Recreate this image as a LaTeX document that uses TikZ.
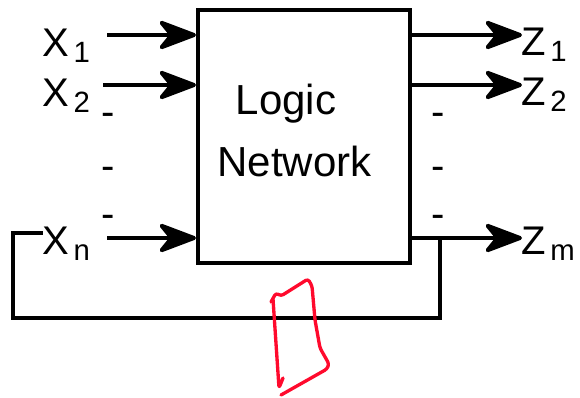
\documentclass[tikz,border=0pt]{standalone}
\usepackage{fontspec}
\setmainfont{Liberation Sans}
\usetikzlibrary{arrows.meta, positioning}
\definecolor{penred}{RGB}{255,10,45}
\newcommand{\lowsub}[1]{\hspace{3.5pt}\raisebox{-4.5pt}{\fontsize{22pt}{22pt}\selectfont #1}}
\tikzset{
  bigtip/.tip={Stealth[scale=2, inset=5pt, round]},
  wire/.style={line width=3pt},
  sig/.style={wire, -bigtip}
}

\begin{document}
\begin{tikzpicture}[x=0.75pt, y=-0.75pt,
  lbl/.style={inner sep=0pt, anchor=base west, font=\fontsize{30pt}{30pt}\selectfont},
  txt/.style={inner sep=0pt, anchor=base, font=\fontsize{31.5pt}{31.5pt}\selectfont},
  dots/.style={inner sep=0pt, anchor=base, font=\fontsize{30pt}{30pt}\selectfont},
  pen/.style={line width=2.5pt, draw=penred, line cap=round, line join=round, rounded corners=2pt}]
  \useasboundingbox (0,0) rectangle (580,398);
  % Logic network block
  \node[draw, line width=3pt, minimum width=159pt, minimum height=190pt, inner sep=0pt] (net) at (304,136.5) {};
  \node[txt] (logic) at (286,115) {Logic};
  \node[txt] (network) at (294.5,177) {Network};
  % Input and output labels
  \node[lbl] (x1) at (42,57) {X\lowsub{1}};
  \node[lbl] (x2) at (42,107) {X\lowsub{2}};
  \node[lbl] (xn) at (42,255) {X\lowsub{n}};
  \node[lbl] (z1) at (521,56) {Z\lowsub{1}};
  \node[lbl] (z2) at (521,106) {Z\lowsub{2}};
  \node[lbl] (zm) at (521,255) {Z\lowsub{m}};
  % Inputs
  \coordinate (x1s) at (107,35);
  \coordinate (x2s) at (103,85);
  \coordinate (xns) at (107,238);
  \draw[sig] (x1s) -- (x1s -| net.west);
  \draw[sig] (x2s) -- (x2s -| net.west);
  \draw[sig] (xns) -- (xns -| net.west);
  % Outputs
  \coordinate (z1e) at (522,35);
  \coordinate (z2e) at (522,85);
  \coordinate (zme) at (522,238);
  \draw[sig] (z1e -| net.east) -- (z1e);
  \draw[sig] (z2e -| net.east) -- (z2e);
  \draw[sig] (zme -| net.east) -- (zme);
  % Vertical dots
  \foreach \y [count=\i] in {116,170,218} {
    \node[dots] (dl\i) at (108,\y+9.5) {-};
    \node[dots] (dr\i) at (438,\y+9.5) {-};
  }
  % Feedback loop
  \coordinate (fb1) at (440,238);
  \coordinate (fb2) at (13,318);
  \coordinate (fb3) at (43,233);
  \draw[wire] (fb1) |- (fb2) |- (fb3);
  % Pen mark
  \draw[pen] (273,299) -- (279,388) -- (283,378);
  \draw[pen] (271,302) -- (276,293) -- (281,296) -- (308,279) -- (312,286)
    -- (315,320) -- (320,348) -- (329,364) -- (327,369) -- (281,395);
\end{tikzpicture}
\end{document}
